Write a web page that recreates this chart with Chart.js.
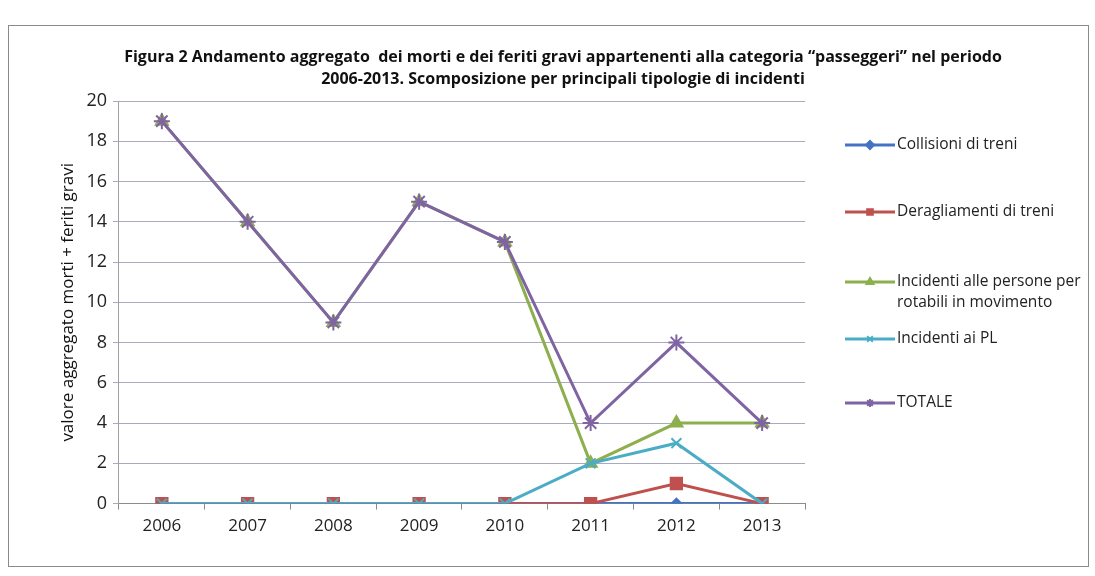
<!DOCTYPE html>
<html>
<head>
<script src="https://cdn.jsdelivr.net/npm/chart.js"></script>
<style>
  body { margin: 0; background: #fff; }
  #wrap { width: 1095px; height: 576px; }
</style>
</head>
<body>
<div id="wrap"><canvas id="chart"></canvas></div>
<script>
var years = ['2006', '2007', '2008', '2009', '2010', '2011', '2012', '2013'];
var collisioni = [0, 0, 0, 0, 0, 0, 0, 0];
var deragliamenti = [0, 0, 0, 0, 0, 0, 1, 0];
var incidentiPersone = [19, 14, 9, 15, 13, 2, 4, 4];
var incidentiPL = [0, 0, 0, 0, 0, 2, 3, 0];
var totale = [19, 14, 9, 15, 13, 4, 8, 4];
var yTicks = [0, 2, 4, 6, 8, 10, 12, 14, 16, 18, 20];
var titolo = ['Figura 2 Andamento aggregato  dei morti e dei feriti gravi appartenenti alla categoria “passeggeri” nel periodo',
              '2006-2013. Scomposizione per principali tipologie di incidenti'];

var FONT = "'Open Sans', sans-serif";

// order alto = disegnata sotto: l'ultima serie resta in primo piano
function serie(label, values, color, style, radius, order) {
  return {
    label: label,
    data: values,
    order: order,
    borderColor: color,
    backgroundColor: color,
    pointBackgroundColor: color,
    pointBorderColor: color,
    pointStyle: style,
    pointRadius: radius,
    pointBorderWidth: 2,
    borderWidth: 3,
    tension: 0
  };
}

var datasets = [
  serie('Collisioni di treni', collisioni, '#4472C4', 'rectRot', 5, 4),
  serie('Deragliamenti di treni', deragliamenti, '#C0504D', 'rect', 8, 3),
  serie('Incidenti alle persone per|rotabili in movimento', incidentiPersone, '#8DAF4E', 'triangle', 7, 2),
  serie('Incidenti ai PL', incidentiPL, '#4BACC6', 'crossRot', 7, 1),
  serie('TOTALE', totale, '#7F63A3', 'star', 8, 0)
];

// cornice esterna e titolo centrato sull'intero riquadro
var frame = {
  id: 'frame',
  beforeDraw: function(chart) {
    var c = chart.ctx;
    c.save();
    c.fillStyle = '#fff';
    c.fillRect(0, 0, chart.width, chart.height);
    c.strokeStyle = '#8a8a8a';
    c.lineWidth = 1;
    c.strokeRect(8.5, 25.5, 1080, 541);
    c.fillStyle = '#111';
    c.font = 'bold 16px ' + FONT;
    c.textAlign = 'center';
    c.textBaseline = 'middle';
    c.fillText(titolo[0], 563, 57);
    c.fillText(titolo[1], 563, 79);
    c.restore();
  }
};

// legenda a destra: linea con marcatore e testo
var legendaDestra = {
  id: 'legendaDestra',
  afterDraw: function(chart) {
    var c = chart.ctx;
    var rows = [145, 212, 282, 339, 403];
    c.save();
    c.font = '15.5px ' + FONT;
    c.textBaseline = 'middle';
    chart.data.datasets.forEach(function(ds, i) {
      var y = rows[i];
      c.strokeStyle = ds.borderColor;
      c.fillStyle = ds.borderColor;
      c.lineWidth = 3;
      c.beginPath();
      c.moveTo(845, y);
      c.lineTo(895, y);
      c.stroke();
      c.lineWidth = 2;
      Chart.helpers.drawPoint(c, {
        pointStyle: ds.pointStyle,
        rotation: 0,
        radius: 4,
        borderWidth: 2
      }, 870, y);
      c.fillStyle = '#222';
      ds.label.split('|').forEach(function(line, k) {
        c.fillText(line, 897, y + k * 21);
      });
    });
    c.restore();
  }
};

new Chart(document.getElementById('chart'), {
  type: 'line',
  data: { labels: years, datasets: datasets },
  plugins: [frame, legendaDestra],
  options: {
    responsive: true,
    maintainAspectRatio: false,
    animation: false,
    layout: { padding: { left: 54, right: 290, top: 101, bottom: 34 } },
    plugins: {
      legend: { display: false },
      tooltip: { enabled: false },
      title: { display: false }
    },
    scales: {
      x: {
        offset: true,
        grid: {
          offset: true,
          drawOnChartArea: false,
          color: '#8c8c8c',
          tickLength: 6
        },
        border: { color: '#8c8c8c' },
        ticks: { color: '#222', font: { family: FONT, size: 17 }, padding: 6 }
      },
      y: {
        min: 0,
        max: 20,
        afterBuildTicks: function(axis) {
          axis.ticks = yTicks.map(function(v) { return { value: v }; });
        },
        grid: { color: '#a9a9c0', tickLength: 6 },
        border: { color: '#a0a0a0' },
        ticks: { color: '#222', font: { family: FONT, size: 18 }, padding: 6 },
        title: {
          display: true,
          text: 'valore aggregato morti + feriti gravi',
          color: '#111',
          font: { family: FONT, size: 17 },
          padding: { bottom: 2 }
        }
      }
    }
  }
});
</script>
</body>
</html>
